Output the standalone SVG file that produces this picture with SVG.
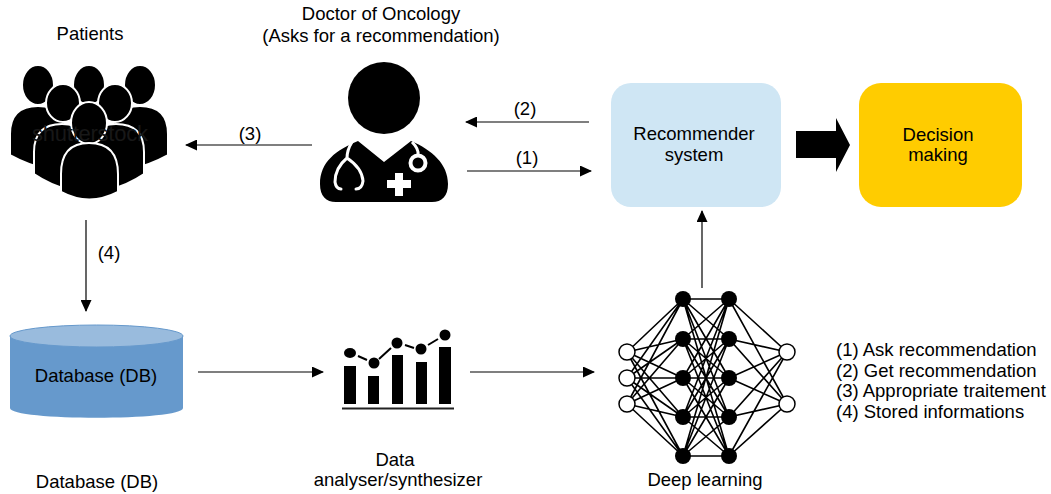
<svg xmlns="http://www.w3.org/2000/svg" width="1051" height="494" viewBox="0 0 1051 494">
<style>
text{font-family:"Liberation Sans",Arial,sans-serif;font-size:18.5px;fill:#000;text-anchor:middle}
.l{text-anchor:start}
.c{stroke:#000;stroke-width:1.2;fill:none;marker-end:url(#a)}
.p{fill:#000;stroke:#fff;stroke-width:2}
</style>
<defs>
<marker id="a" markerUnits="userSpaceOnUse" markerWidth="12" markerHeight="11" refX="11" refY="5.500" orient="auto"><path d="M0 0L12 5.500L0 11z" fill="#000"/></marker>
</defs>
<rect width="1051" height="494" fill="#fff"/>
<g id="patients">
<ellipse class="p" cx="38" cy="85" rx="16" ry="20"/><ellipse class="p" cx="89" cy="85" rx="16" ry="20"/><ellipse class="p" cx="140" cy="85" rx="16" ry="20"/>
<path class="p" d="M10 155V134Q10 106 38 106Q66 106 66 134V170H50Q28 165 10 155z"/>
<path class="p" d="M168 155V134Q168 106 140 106Q112 106 112 134V170H128Q150 165 168 155z"/>
<ellipse class="p" cx="63" cy="103" rx="17" ry="19"/><ellipse class="p" cx="115" cy="103" rx="17" ry="19"/>
<path class="p" d="M34 174V152Q34 124 62 124Q90 124 90 152V190H70Q50 185 34 174z"/>
<path class="p" d="M144 174V152Q144 124 116 124Q88 124 88 152V190H108Q128 185 144 174z"/>
<ellipse class="p" cx="89" cy="123" rx="18" ry="21"/>
<path class="p" d="M61 192V174Q61 143 89 143Q118 143 118 174V192Q89 207 61 192z"/>
<text x="90" y="141" style="font-size:22px;fill:#181818" textLength="116">shutterstock</text>
<text x="90" y="40">Patients</text>
</g>
<g id="doctor">
<circle cx="384" cy="98" r="36"/>
<path d="M320 184C320 162 336 150 358 141L384 162L411 141C432 150 448 164 448 184C448 196 442 202 432 202H336C326 202 320 196 320 184z"/>
<path d="M352 142Q347 150 347 158Q335 168 335 182Q336 189 341 189M347 158Q362 168 363 181Q362 189 356 189" fill="none" stroke="#fff" stroke-width="3" stroke-linecap="round"/>
<path d="M412 142Q419 149 418 155" fill="none" stroke="#fff" stroke-width="3"/>
<circle cx="418" cy="163" r="7.500" fill="none" stroke="#fff" stroke-width="4"/>
<path d="M395 173h8v7h8v8h-8v8h-8v-8h-8v-8h8z" fill="#fff"/>
<text x="381" y="20">Doctor of Oncology</text>
<text x="381" y="42">(Asks for a recommendation)</text>
</g>
<g id="recommender">
<rect x="611" y="83" width="170" height="124" rx="20" fill="#cfe6f4"/>
<text x="694" y="140">Recommender</text>
<text x="694" y="161">system</text>
</g>
<g id="decision">
<rect x="859" y="83" width="163" height="124" rx="22" fill="#ffcc00"/>
<text x="938" y="141">Decision</text>
<text x="938" y="161">making</text>
</g>
<g id="database">
<path d="M10 336V408C10 421 183 421 183 408V336z" fill="#6699cc"/>
<ellipse cx="96.500" cy="336" rx="86.500" ry="11" fill="#99bbdd" stroke="#6699cc"/>
<text x="96" y="382">Database (DB)</text>
<text x="97" y="488">Database (DB)</text>
</g>
<g id="analyser">
<path d="M344 366h12v38h-12zM368 376h11v28h-11zM392 355h11v49h-11zM416 362h11v42h-11zM439 347h12v57h-12z"/>
<path d="M342 408.500h112" stroke="#222" stroke-width="2" fill="none"/>
<ellipse cx="350" cy="353" rx="6" ry="5"/><circle cx="374" cy="363" r="5.500"/><circle cx="397" cy="343" r="5.500"/><circle cx="421" cy="349" r="5.500"/><circle cx="445" cy="335" r="5.500"/>
<path d="M358 356l9 4M379 359l12-11M405 345l9 3M428 345l10-6" stroke="#000" stroke-width="2" fill="none"/>
<text x="395" y="466">Data</text>
<text x="398" y="486">analyser/synthesizer</text>
</g>
<g id="deep-learning">
<path fill="none" stroke="#000" stroke-width="1.600" d="M627 352L683 299M627 352L683 339M627 352L683 378M627 352L683 417M627 352L683 456M627 378L683 299M627 378L683 339M627 378L683 378M627 378L683 417M627 378L683 456M627 404L683 299M627 404L683 339M627 404L683 378M627 404L683 417M627 404L683 456M683 299L729 299M683 299L729 339M683 299L729 378M683 299L729 417M683 299L729 456M683 339L729 299M683 339L729 339M683 339L729 378M683 339L729 417M683 339L729 456M683 378L729 299M683 378L729 339M683 378L729 378M683 378L729 417M683 378L729 456M683 417L729 299M683 417L729 339M683 417L729 378M683 417L729 417M683 417L729 456M683 456L729 299M683 456L729 339M683 456L729 378M683 456L729 417M683 456L729 456M729 299L787 352M729 299L787 404M729 339L787 352M729 339L787 404M729 378L787 352M729 378L787 404M729 417L787 352M729 417L787 404M729 456L787 352M729 456L787 404"/>
<g fill="#fff" stroke="#000" stroke-width="1.500"><circle cx="627" cy="352" r="8"/><circle cx="627" cy="378" r="8"/><circle cx="627" cy="404" r="8"/><circle cx="787" cy="352" r="8"/><circle cx="787" cy="404" r="8"/></g>
<g><circle cx="683" cy="299" r="8"/><circle cx="683" cy="339" r="8"/><circle cx="683" cy="378" r="8"/><circle cx="683" cy="417" r="8"/><circle cx="683" cy="456" r="8"/><circle cx="729" cy="299" r="8"/><circle cx="729" cy="339" r="8"/><circle cx="729" cy="378" r="8"/><circle cx="729" cy="417" r="8"/><circle cx="729" cy="456" r="8"/></g>
<text x="705" y="486">Deep learning</text>
</g>
<g id="connectors">
<path class="c" d="M312 145H186"/>
<path class="c" d="M589 122H466"/>
<path class="c" d="M467 171H591"/>
<path class="c" d="M86 220V311"/>
<path class="c" d="M198 372H323"/>
<path class="c" d="M470 372H594"/>
<path class="c" d="M702 288V211"/>
<path d="M796 131H836V118L850 145L836 172V158H796z" fill="#000"/>
<text x="250" y="140">(3)</text>
<text x="525" y="115">(2)</text>
<text x="527" y="164">(1)</text>
<text x="109" y="259">(4)</text>
</g>
<g id="legend">
<text class="l" x="836" y="356">(1) Ask recommendation</text>
<text class="l" x="836" y="377">(2) Get recommendation</text>
<text class="l" x="836" y="397">(3) Appropriate traitement</text>
<text class="l" x="836" y="418">(4) Stored informations</text>
</g>
</svg>
